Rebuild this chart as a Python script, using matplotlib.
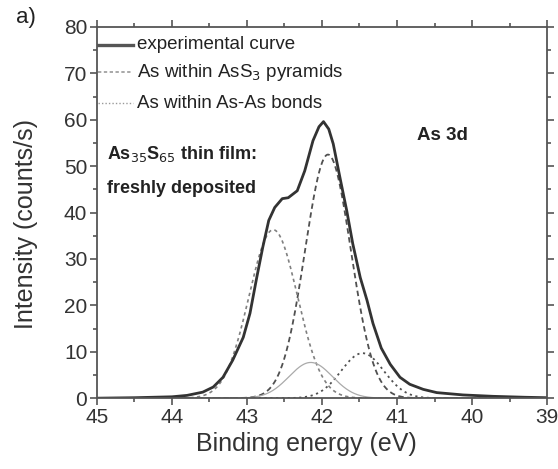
import matplotlib
matplotlib.use("Agg")
import matplotlib.pyplot as plt
import numpy as np
from matplotlib.ticker import MultipleLocator

plt.rcParams['font.family'] = ['Liberation Sans', 'DejaVu Sans']

# experimental As 3d spectrum (binding energy in eV, intensity in counts/s)
exp_energy = [45.0, 44.5, 44.0, 43.8, 43.59, 43.45, 43.32, 43.19, 43.05, 42.96,
              42.87, 42.79, 42.71, 42.63, 42.53, 42.45, 42.33, 42.23, 42.12, 42.04,
              41.98, 41.91, 41.85, 41.76, 41.67, 41.59, 41.49, 41.40, 41.32, 41.21,
              41.09, 40.96, 40.83, 40.65, 40.47, 40.12, 39.72, 39.3, 39.0]
exp_counts = [0.0, 0.1, 0.3, 0.6, 1.3, 2.4, 4.5, 8.2, 13.1, 18.3,
              26.0, 32.5, 38.3, 41.1, 43.0, 43.2, 44.7, 49.0, 55.5, 58.5,
              59.6, 58.0, 54.8, 47.5, 40.4, 33.3, 26.0, 21.1, 16.1, 10.8,
              7.3, 4.5, 3.0, 1.9, 1.2, 0.7, 0.4, 0.2, 0.1]

# fitted components: centre (eV), height (counts/s), FWHM (eV)
ass3_centre = [41.92, 42.65]
ass3_height = [52.5, 36.3]
ass3_fwhm = [0.72, 0.76]
asas_centre = [41.46, 42.15]
asas_height = [9.7, 7.7]
asas_fwhm = [0.67, 0.68]


def gauss(e, c, h, w):
    return h * np.exp(-4 * np.log(2) * ((e - c) / w) ** 2)


e = np.linspace(45, 39, 1200)

fig = plt.figure(figsize=(5.58, 4.69), dpi=100)
ax = fig.add_axes([0.1738, 0.151, 0.8065, 0.7915])

# components
ax.plot(e, gauss(e, ass3_centre[0], ass3_height[0], ass3_fwhm[0]),
        color='#505050', lw=1.3, ls=(0, (3, 2)))
ax.plot(e, gauss(e, ass3_centre[1], ass3_height[1], ass3_fwhm[1]),
        color='#808080', lw=1.2, ls=(0, (2, 2)))
ax.plot(e, gauss(e, asas_centre[0], asas_height[0], asas_fwhm[0]),
        color='#505050', lw=1.3, ls=(0, (1.2, 2)))
ax.plot(e, gauss(e, asas_centre[1], asas_height[1], asas_fwhm[1]),
        color='#aaaaaa', lw=0.9, ls='-')
ax.plot(exp_energy, exp_counts, color='#333333', lw=2.0, solid_joinstyle='round')

# legend drawn by hand in the top-left corner
legend_rows = [('experimental curve', dict(color='#555555', lw=2.4, ls='-'), 76.2),
               ('As within AsS$_3$ pyramids', dict(color='#999999', lw=1.2, ls=(0, (2, 1.5))), 70.2),
               ('As within As-As bonds', dict(color='#999999', lw=1.0, ls=(0, (1, 1.5))), 63.6)]
for label, style, yv in legend_rows:
    ax.plot([44.99, 44.52], [yv, yv], **style)
    ax.text(44.47, yv, label, fontsize=13.5, va='center', ha='left', color='#222222')

ax.text(44.87, 52.7, 'As$_{35}$S$_{65}$ thin film:', fontsize=13, fontweight='bold',
        va='center', ha='left', color='#222222')
ax.text(44.87, 45.2, 'freshly deposited', fontsize=13, fontweight='bold',
        va='center', ha='left', color='#222222')
ax.text(40.73, 56.6, 'As 3d', fontsize=13.5, fontweight='bold',
        va='center', ha='left', color='#222222')

ax.set_xlim(45, 39)
ax.set_ylim(0, 80)
ax.xaxis.set_major_locator(MultipleLocator(1))
ax.xaxis.set_minor_locator(MultipleLocator(0.5))
ax.yaxis.set_major_locator(MultipleLocator(10))
ax.yaxis.set_minor_locator(MultipleLocator(5))
ax.tick_params(which='both', direction='out', top=True, right=True,
               color='#555555', width=1.2, labelsize=15, labelcolor='#333333', pad=2)
ax.tick_params(which='major', length=5)
ax.tick_params(which='minor', length=3)
for s in ax.spines.values():
    s.set_color('#555555')
    s.set_linewidth(1.3)

ax.set_xlabel('Binding energy (eV)', fontsize=18, color='#333333')
ax.xaxis.set_label_coords(0.465, -0.09, transform=ax.transAxes)
ax.set_ylabel('Intensity (counts/s)', fontsize=18, color='#333333')
ax.yaxis.set_label_coords(-0.13, 0.47)
fig.text(0.047, 0.962, 'a)', fontsize=16, color='#222222', va='center', ha='center')

fig.savefig('out.png', dpi=100)
